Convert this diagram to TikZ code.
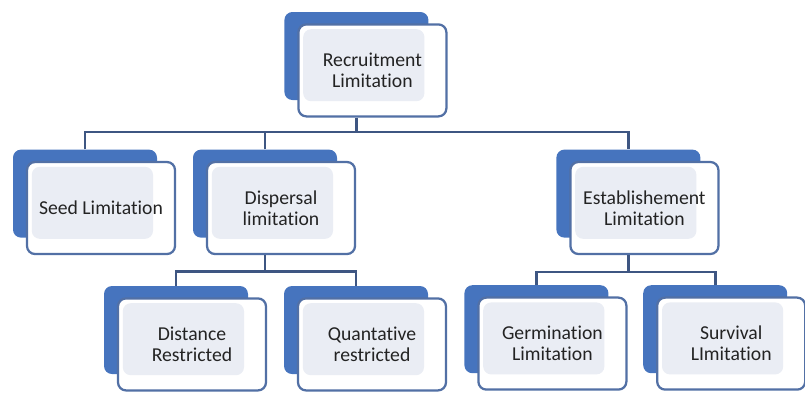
\documentclass[tikz,border=0pt]{standalone}
\usepackage{fontspec}
\setmainfont{Carlito}[Ligatures=NoCommon]
\usepackage{tikz}
\usepackage{xcolor}
\usetikzlibrary{positioning}
\definecolor{cardblue}{RGB}{70,116,190}
\definecolor{cardedge}{RGB}{82,112,165}
\definecolor{panelgray}{RGB}{234,237,244}
\definecolor{linkblue}{RGB}{62,86,130}
\definecolor{textgray}{RGB}{35,35,35}

\begin{document}
\begin{tikzpicture}[
    back/.style={rectangle, rounded corners=0.2cm, fill=cardblue, minimum width=3.6cm, minimum height=2.2cm},
    card/.style={rectangle, rounded corners=0.2cm, draw=cardedge, line width=1.6pt, fill=white,
        minimum width=3.7cm, minimum height=2.3cm, align=center, text=textgray,
        font=\fontsize{14}{15}\selectfont, xshift=0.4cm, yshift=-0.36cm,
        path picture={\fill[panelgray] ([xshift=0.12cm, yshift=-0.12cm]path picture bounding box.north west)
            rectangle ([xshift=-0.55cm, yshift=0.38cm]path picture bounding box.south east);}},
    link/.style={draw=linkblue, line width=2pt}
]
    \useasboundingbox (0,0) rectangle (20.125,-9.8);

    % top
    \node[back] (rec-b) at (8.91,-1.4) {};
    \node[card] (rec) at (rec-b) {Recruitment\\Limitation};

    % second row
    \node[back] (seed-b) at (2.125,-4.84) {};
    \node[card] (seed) at (seed-b) {Seed Limitation};
    \node[back] (disp-b) at (6.625,-4.84) {};
    \node[card] (disp) at (disp-b) {Dispersal\\limitation};
    \node[back] (est-b) at (15.71,-4.84) {};
    \node[card] (est) at (est-b) {Establishement\\Limitation};

    % third row
    \node[back] (dist-b) at (4.4,-8.25) {};
    \node[card] (dist) at (dist-b) {Distance\\Restricted};
    \node[back] (quant-b) at (8.9,-8.25) {};
    \node[card] (quant) at (quant-b) {Quantative\\restricted};
    \node[back] (germ-b) at (13.41,-8.23) {};
    \node[card] (germ) at (germ-b) {Germination\\Limitation};
    \node[back] (surv-b) at (17.88,-8.23) {};
    \node[card] (surv) at (surv-b) {Survival\\LImitation};

    % buses
    \coordinate (bus1) at (0,-3.3);
    \coordinate (bus2) at (0,-6.78);
    \coordinate (bus3) at (0,-6.8);

    \draw[link] (rec-b |- rec.south) -- (rec-b |- bus1);
    \draw[link] (seed-b.north) |- (rec-b |- bus1) -| (est-b.north);
    \draw[link] (disp-b.north) -- (disp-b |- bus1);

    \draw[link] (disp-b |- disp.south) -- (disp-b |- bus2);
    \draw[link] (dist-b.north) |- (disp-b |- bus2) -| (quant-b.north);

    \draw[link] (est-b |- est.south) -- (est-b |- bus3);
    \draw[link] (germ-b.north) |- (est-b |- bus3) -| (surv-b.north);
\end{tikzpicture}
\end{document}
